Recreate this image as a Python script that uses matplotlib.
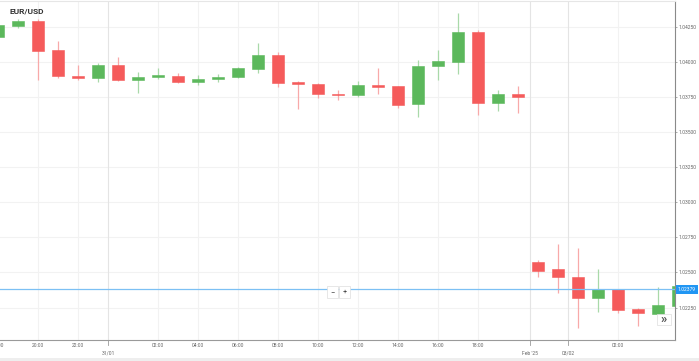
import numpy as np
import matplotlib.pyplot as plt
from matplotlib.patches import Rectangle

plt.rcParams['font.family'] = ['Roboto', 'DejaVu Sans']

# hourly EUR/USD candles, index 0 = 30/01 18:00 (weekend gap skipped after index 26)
opens = [1.04179, 1.04255, 1.04291, 1.04082, 1.03901, 1.03883, 1.03977, 1.03868, 1.03892,
         1.03901, 1.03854, 1.03876, 1.03892, 1.03949, 1.04046, 1.03854, 1.03844, 1.03771,
         1.03764, 1.03835, 1.03828, 1.03698, 1.03970, 1.03999, 1.04210, 1.03705, 1.03769,
         1.02577, 1.02525, 1.02470, 1.02316, 1.02382, 1.02240, 1.02207, 1.02264]
highs = [1.04276, 1.04305, 1.04305, 1.04150, 1.03977, 1.03994, 1.04032, 1.03930, 1.03954,
         1.03918, 1.03904, 1.03915, 1.03965, 1.04136, 1.04072, 1.03860, 1.03846, 1.03801,
         1.03863, 1.03958, 1.03830, 1.04013, 1.04084, 1.04350, 1.04227, 1.03799, 1.03828,
         1.02589, 1.02703, 1.02677, 1.02525, 1.02385, 1.02245, 1.02399, 1.02410]
lows = [1.04170, 1.04241, 1.03870, 1.03883, 1.03868, 1.03856, 1.03861, 1.03778, 1.03878,
        1.03847, 1.03837, 1.03854, 1.03887, 1.03922, 1.03819, 1.03664, 1.03745, 1.03728,
        1.03752, 1.03773, 1.03671, 1.03609, 1.03868, 1.03913, 1.03621, 1.03650, 1.03638,
        1.02466, 1.02352, 1.02107, 1.02221, 1.02209, 1.02121, 1.02207, 1.02260]
closes = [1.04262, 1.04291, 1.04079, 1.03899, 1.03885, 1.03977, 1.03870, 1.03894, 1.03906,
          1.03854, 1.03880, 1.03894, 1.03954, 1.04049, 1.03847, 1.03840, 1.03769, 1.03762,
          1.03833, 1.03823, 1.03690, 1.03972, 1.04006, 1.04210, 1.03705, 1.03769, 1.03747,
          1.02511, 1.02466, 1.02316, 1.02382, 1.02235, 1.02214, 1.02268, 1.02400]
last_price = 1.02379

y_ticks = [1.0225, 1.0250, 1.0275, 1.0300, 1.0325, 1.0350, 1.0375, 1.0400, 1.0425]
hour_pos = [0, 2, 4, 8, 10, 12, 14, 16, 18, 20, 22, 24, 31]
hour_labels = ['18:00', '20:00', '22:00', '02:00', '04:00', '06:00', '08:00', '10:00',
               '12:00', '14:00', '16:00', '18:00', '02:00']
day_pos = [5.5, 26.6, 28.5]
day_labels = ['31/01', "Feb '25", '03/02']

GREEN = '#5cb85c'
RED = '#f55b5b'
GREEN_WICK = '#a9d9a9'
RED_WICK = '#f8a9a9'
TXT = '#666666'

W, H = 699, 361
fig = plt.figure(figsize=(W / 100, H / 100), dpi=100)
ax = fig.add_axes([0, 21 / H, 675 / W, 339 / H])
ax.set_xlim(0.1, 33.85)
ax.set_ylim(1.02019, 1.04433)

# grid
for y in y_ticks:
    ax.axhline(y, color='#f2f2f2', lw=0.8, zorder=0)
for x in hour_pos:
    ax.axvline(x, color='#f2f2f2', lw=0.8, zorder=0)
for x in day_pos:
    ax.axvline(x, color='#e4e4e4', lw=0.8, zorder=0)

# candles
o = np.array(opens)
c = np.array(closes)
idx = np.arange(len(o))
up = c >= o
body_col = np.where(up, GREEN, RED)
wick_col = np.where(up, GREEN_WICK, RED_WICK)
ax.vlines(idx, lows, highs, colors=wick_col, lw=0.9, zorder=2)
ax.bar(idx, np.maximum(np.abs(c - o), 0.00004), bottom=np.minimum(o, c), width=0.64,
       color=body_col, edgecolor=body_col, lw=0.4, zorder=3)

# last price line + label
ax.axhline(last_price, color='#7cc0f4', lw=0.9, zorder=4)
ax.annotate(f'{last_price:.5f}', xy=(1, last_price), xycoords=ax.get_yaxis_transform(),
            xytext=(2, 0), textcoords='offset points', ha='left', va='center',
            fontsize=3.6, color='white', annotation_clip=False,
            bbox=dict(boxstyle='square,pad=0.35', fc='#2196f3', ec='none'))

# axes styling
ax.spines['left'].set_visible(False)
ax.spines['top'].set_color('#e6e6e6')
ax.spines['right'].set_color('#8a8a8a')
ax.spines['bottom'].set_color('#9a9a9a')
for s in ['top', 'right', 'bottom']:
    ax.spines[s].set_linewidth(0.8)

ax.yaxis.tick_right()
ax.set_yticks(y_ticks)
ax.set_yticklabels([f'{v:.5f}' for v in y_ticks])
ax.tick_params(axis='y', length=1.5, width=0.5, color='#888888', labelsize=3.6,
               labelcolor=TXT, pad=1)
ax.set_xticks([])

xt = ax.get_xaxis_transform()
for x, lbl in zip(hour_pos, hour_labels):
    ax.annotate(lbl, xy=(x, 0), xycoords=xt, xytext=(0, -4.3), textcoords='offset points',
                ha='center', va='center', fontsize=3.6, color=TXT, annotation_clip=False)
for x, lbl in zip(day_pos, day_labels):
    ax.annotate(lbl, xy=(x, 0), xycoords=xt, xytext=(0, -9.6), textcoords='offset points',
                ha='center', va='center', fontsize=3.6, color=TXT, annotation_clip=False)
    ax.plot([x, x], [0, -5 / 339], transform=xt, color='#9a9a9a', lw=0.6, clip_on=False)

# title
fig.text(10 / W, 1 - 11.5 / H, 'EUR/USD', fontsize=6, fontweight='bold', color='#333333',
         ha='left', va='center')


def px_box(x0, y0, x1, y1, **kw):
    fig.patches.append(Rectangle((x0 / W, 1 - y1 / H), (x1 - x0) / W, (y1 - y0) / H,
                                 transform=fig.transFigure, **kw))


# zoom buttons
px_box(327, 286, 338, 298, fc='white', ec='#dddddd', lw=0.5)
px_box(339, 286, 350, 298, fc='white', ec='#dddddd', lw=0.5)
fig.text(332.5 / W, 1 - 292 / H, '\u2212', fontsize=5.5, color='#444444', ha='center', va='center')
fig.text(344.5 / W, 1 - 292 / H, '+', fontsize=5.5, color='#444444', ha='center', va='center')

# scroll-to-end button
px_box(657, 314, 671, 325, fc='white', ec='#dddddd', lw=0.5)
fig.text(664 / W, 1 - 319.5 / H, '\u00bb', fontsize=9, fontweight='bold', color='#555555',
         ha='center', va='center')

# bottom strip
px_box(0, 358, 699, 361, fc='#eeeeee', ec='none')

fig.savefig('out.png', dpi=100)
